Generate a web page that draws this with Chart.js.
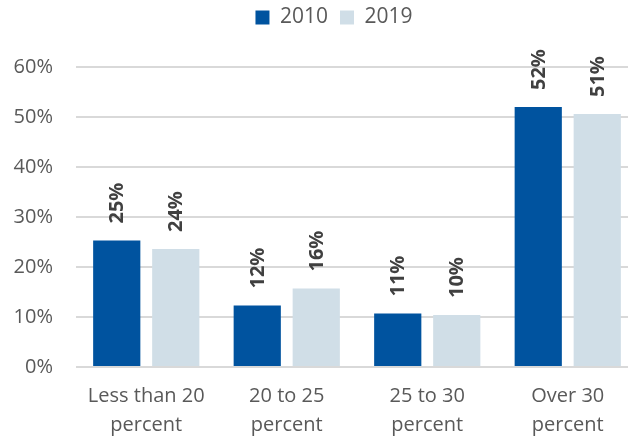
<!DOCTYPE html>
<html>
<head>
<meta charset="utf-8">
<script src="https://cdn.jsdelivr.net/npm/chart.js@4.4.1/dist/chart.umd.min.js"></script>
<style>
  html, body { margin: 0; padding: 0; background: #fff; overflow: hidden; }
  #wrap { width: 640px; height: 440px; }
</style>
</head>
<body>
<div id="wrap"><canvas id="barChart" width="640" height="440"></canvas></div>
<script>
// Данные графика
const categories = [['Less than 20', 'percent'], ['20 to 25', 'percent'], ['25 to 30', 'percent'], ['Over 30', 'percent']];
const values2010 = [25.3, 12.3, 10.7, 52.0];
const values2019 = [23.6, 15.7, 10.4, 50.6];
const labels2010 = ['25%', '12%', '11%', '52%'];
const labels2019 = ['24%', '16%', '10%', '51%'];
const yTicks = [0, 10, 20, 30, 40, 50, 60];

const FONT = "'Open Sans', sans-serif";

// Подписи над столбцами (повернуты на 90 градусов)
const barLabels = {
    id: 'barLabels',
    afterDatasetsDraw(chart) {
        const ctx = chart.ctx;
        const texts = [labels2010, labels2019];
        ctx.save();
        ctx.font = "bold 20px " + FONT;
        ctx.fillStyle = '#404040';
        ctx.textAlign = 'left';
        ctx.textBaseline = 'middle';
        chart.data.datasets.forEach(function (ds, i) {
            chart.getDatasetMeta(i).data.forEach(function (bar, j) {
                ctx.save();
                ctx.translate(bar.x, bar.y - 17);
                ctx.rotate(-Math.PI / 2);
                ctx.fillText(texts[i][j], 0, 1);
                ctx.restore();
            });
        });
        ctx.restore();
    }
};

// Отступ под легендой + подписи оси Y без обрезки
const layoutFix = {
    id: 'layoutFix',
    beforeInit(chart) {
        const fit = chart.legend.fit;
        chart.legend.fit = function () {
            fit.bind(chart.legend)();
            this.height += 29;
        };
    },
    afterLayout(chart) {
        chart.scales.y._computeLabelArea = function () { return undefined; };
    }
};

const ctx = document.getElementById('barChart').getContext('2d');
new Chart(ctx, {
    type: 'bar',
    data: {
        labels: categories,
        datasets: [{
            label: '2010',
            data: values2010,
            backgroundColor: '#00539F',
            categoryPercentage: 0.84,
            barPercentage: 0.8
        }, {
            label: '2019',
            data: values2019,
            backgroundColor: '#D0DEE7',
            categoryPercentage: 0.84,
            barPercentage: 0.8
        }]
    },
    options: {
        responsive: false,
        animation: false,
        layout: { padding: { left: 30, right: 2, top: -5, bottom: 0 } },
        plugins: {
            legend: {
                display: true,
                position: 'top',
                labels: {
                    boxWidth: 14,
                    boxHeight: 14,
                    padding: 12,
                    color: '#595959',
                    font: { family: FONT, size: 21 }
                }
            },
            tooltip: { enabled: false }
        },
        scales: {
            x: {
                grid: { display: false },
                border: { display: false },
                afterFit(axis) {
                    axis.height = 73;
                    axis.paddingLeft = 0;
                    axis.paddingRight = 0;
                },
                ticks: {
                    color: '#595959',
                    padding: 7,
                    maxRotation: 0,
                    font: { family: FONT, size: 20, lineHeight: 1.45 }
                }
            },
            y: {
                min: 0,
                max: 60,
                afterBuildTicks(axis) {
                    axis.ticks = yTicks.map(v => ({ value: v }));
                },
                afterFit(axis) { axis.width = 46; },
                grid: { color: '#D9D9D9', lineWidth: 2, drawTicks: false },
                border: { display: false },
                ticks: {
                    color: '#595959',
                    padding: 23,
                    font: { family: FONT, size: 20 },
                    callback: v => v + '%'
                }
            }
        }
    },
    plugins: [barLabels, layoutFix]
});
</script>
</body>
</html>
